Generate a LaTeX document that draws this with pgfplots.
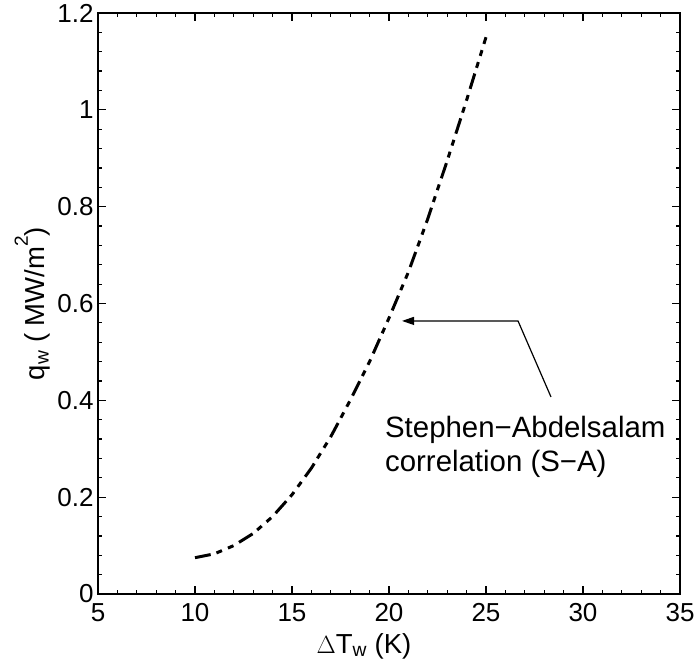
\documentclass[border=0pt]{standalone}
\usepackage{fontspec}
\setmainfont{Liberation Sans}
\usepackage{pgfplots}
\pgfplotsset{compat=1.18}
\usetikzlibrary{arrows.meta}
\begin{document}
\begin{tikzpicture}
\begin{axis}[
  width=582pt, height=581pt, scale only axis,
  xmin=5, xmax=35, ymin=0, ymax=1.2,
  xtick={5,10,15,20,25,30,35},
  ytick={0,0.2,0.4,0.6,0.8,1,1.2},
  minor x tick num=4, minor y tick num=4,
  tick align=inside,
  major tick length=8pt, minor tick length=4pt,
  axis line style={line width=1.2pt},
  every tick/.style={black, line width=1.2pt},
  ticklabel style={font=\fontsize{26}{30}\selectfont},
  xticklabel style={yshift=-6pt},
  yticklabel style={xshift=-1pt},
  /pgf/number format/assume math mode=true,
  xlabel={$\Delta$T\textsubscript{w} (K)},
  xlabel style={font=\fontsize{27.5}{32}\selectfont, at={(axis description cs:0.457,0)}, anchor=base, yshift=-59pt},
  ylabel={q\textsubscript{w} ( MW/m\raisebox{0.62em}{\fontsize{19}{20}\selectfont 2})},
  ylabel style={font=\fontsize{27.5}{32}\selectfont, at={(axis description cs:0,0.5)}, anchor=base, yshift=53pt},
]
\addplot[black, line width=3pt, dash pattern=on 16pt off 6pt on 6pt off 6.5pt on 6pt off 6.5pt] coordinates {
(10,0.075) (11,0.083) (12,0.100) (13,0.125) (14,0.160) (15,0.205)
(16,0.260) (17,0.325) (18,0.400) (19,0.480) (20,0.570) (21,0.665)
(22,0.775) (23,0.895) (24,1.020) (25,1.150)
};
\draw[line width=1.2pt, -{Triangle[length=12pt,width=8pt]}] (axis cs:28.35,0.407) -- (axis cs:26.65,0.564) -- (axis cs:20.67,0.564);
\node[anchor=base west, align=left, inner sep=0pt, font=\fontsize{29.4}{34}\selectfont] at (axis cs:19.79,0.252) {Stephen−Abdelsalam\\correlation (S−A)};
\end{axis}
\pgfresetboundingbox
\path (current axis.south west) ++(-98pt,-72pt) rectangle ([shift={(18pt,13pt)}]current axis.north east);
\end{tikzpicture}
\end{document}
